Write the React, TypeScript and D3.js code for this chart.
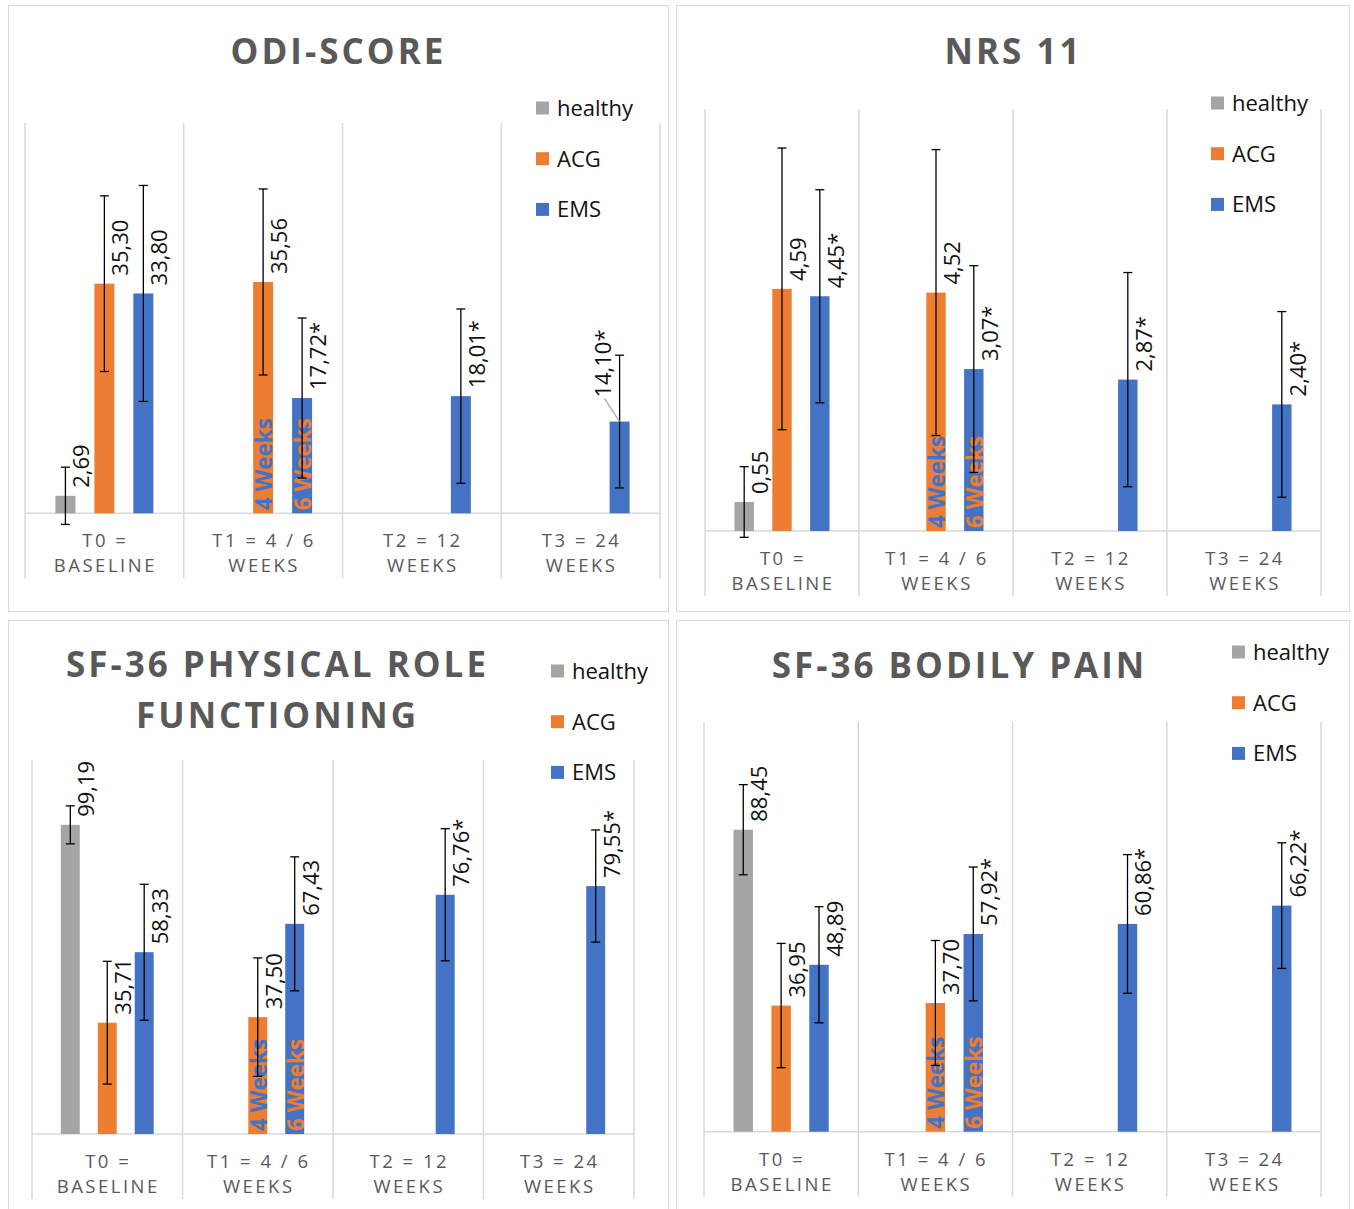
import React from "react";
import * as d3 from "d3";

// ---------- DATA ----------
const categoryLine1 = ["T0 =", "T1 = 4 / 6", "T2 = 12", "T3 = 24"];
const categoryLine2 = ["BASELINE", "WEEKS", "WEEKS", "WEEKS"];
const seriesNames = ["healthy", "ACG", "EMS"];
const seriesColors = ["#A5A5A5", "#ED7D31", "#4472C4"];
const weekNotes = ["4 Weeks", "6 Weeks"]; // on ACG and EMS bars at T1

// ODI-SCORE
const odiHealthy = [2.69, null, null, null];
const odiHealthySd = [4.4, null, null, null];
const odiAcg = [35.3, 35.56, null, null];
const odiAcgSd = [13.5, 14.3, null, null];
const odiEms = [33.8, 17.72, 18.01, 14.1];
const odiEmsSd = [16.6, 12.3, 13.4, 10.2];
const odiEmsStar = [false, true, true, true];

// NRS 11
const nrsHealthy = [0.55, null, null, null];
const nrsHealthySd = [0.67, null, null, null];
const nrsAcg = [4.59, 4.52, null, null];
const nrsAcgSd = [2.67, 2.71, null, null];
const nrsEms = [4.45, 3.07, 2.87, 2.4];
const nrsEmsSd = [2.02, 1.96, 2.03, 1.76];
const nrsEmsStar = [true, true, true, true];

// SF-36 PHYSICAL ROLE FUNCTIONING
const prfHealthy = [99.19, null, null, null];
const prfHealthySd = [6.1, null, null, null];
const prfAcg = [35.71, 37.5, null, null];
const prfAcgSd = [19.7, 19.0, null, null];
const prfEms = [58.33, 67.43, 76.76, 79.55];
const prfEmsSd = [21.8, 21.5, 21.2, 18.0];
const prfEmsStar = [false, false, true, true];

// SF-36 BODILY PAIN
const bpHealthy = [88.45, null, null, null];
const bpHealthySd = [13.2, null, null, null];
const bpAcg = [36.95, 37.7, null, null];
const bpAcgSd = [18.2, 18.3, null, null];
const bpEms = [48.89, 57.92, 60.86, 66.22];
const bpEmsSd = [17.0, 19.6, 20.3, 18.4];
const bpEmsStar = [false, true, true, true];

// ---------- LAYOUT ----------
const panels = [
  {
    title: ["ODI-SCORE"], titleX: 337, titleY: 64,
    box: [8.5, 5.5, 660, 606],
    x0: 25, x1: 660, yTop: 123, yBase: 513.3, yMax: 60,
    legendX: 536, legendY: 108,
    values: [odiHealthy, odiAcg, odiEms], sds: [odiHealthySd, odiAcgSd, odiEmsSd],
    stars: [null, null, odiEmsStar],
    displaced: { series: 2, cat: 3, dx: -33, dy: -16 },
  },
  {
    title: ["NRS 11"], titleX: 1012, titleY: 64,
    box: [676.5, 5.5, 673, 606],
    x0: 705, x1: 1321, yTop: 109, yBase: 531, yMax: 8,
    legendX: 1211, legendY: 103,
    values: [nrsHealthy, nrsAcg, nrsEms], sds: [nrsHealthySd, nrsAcgSd, nrsEmsSd],
    stars: [null, null, nrsEmsStar],
  },
  {
    title: ["SF-36 PHYSICAL ROLE", "FUNCTIONING"], titleX: 276, titleY: 677,
    box: [8.5, 620.5, 660, 620],
    x0: 32, x1: 634, yTop: 760, yBase: 1134, yMax: 120,
    legendX: 551, legendY: 671,
    values: [prfHealthy, prfAcg, prfEms], sds: [prfHealthySd, prfAcgSd, prfEmsSd],
    stars: [null, null, prfEmsStar],
  },
  {
    title: ["SF-36 BODILY PAIN"], titleX: 958, titleY: 678,
    box: [676.5, 620.5, 673, 620],
    x0: 704, x1: 1321, yTop: 722, yBase: 1131.7, yMax: 120,
    legendX: 1232, legendY: 652,
    values: [bpHealthy, bpAcg, bpEms], sds: [bpHealthySd, bpAcgSd, bpEmsSd],
    stars: [null, null, bpEmsStar],
  },
];

const FONT = "'Open Sans', 'Noto Sans', sans-serif";
const fmt = (v: number) => d3.format(".2f")(v).replace(".", ",");

function Panel({ cfg }: { cfg: any }) {
  const idx = d3.range(categoryLine1.length);
  const x = d3.scaleBand<number>().domain(idx).range([cfg.x0, cfg.x1]).padding(0);
  const inner = d3
    .scaleBand<number>()
    .domain(d3.range(seriesNames.length))
    .range([0, x.bandwidth()])
    .paddingInner(0.487)
    .paddingOuter(0.78);
  const y = d3.scaleLinear().domain([0, cfg.yMax]).range([cfg.yBase, cfg.yTop]);
  const bw = inner.bandwidth();

  const bars: any[] = [];
  cfg.values.forEach((arr: (number | null)[], s: number) => {
    arr.forEach((v, c) => {
      if (v == null) return;
      const left = (x(c) as number) + (inner(s) as number);
      bars.push({ s, c, v, sd: cfg.sds[s][c], left, cx: left + bw / 2, star: cfg.stars[s] ? cfg.stars[s][c] : false });
    });
  });

  const gridXs = idx.map((i) => x(i) as number).concat([cfg.x1]);

  return (
    <g>
      <rect x={cfg.box[0]} y={cfg.box[1]} width={cfg.box[2]} height={cfg.box[3]} fill="#fff" stroke="#d9d9d9" strokeWidth={1} />
      {cfg.title.map((t: string, i: number) => (
        <text key={i} x={cfg.titleX + 1.5} y={cfg.titleY + i * 51} textAnchor="middle" fontFamily={FONT} fontWeight={700}
          fontSize={35} letterSpacing={3} fill="#595959">{t}</text>
      ))}
      {/* grid lines */}
      {gridXs.map((gx, i) => (
        <line key={i} x1={gx} x2={gx} y1={cfg.yTop} y2={cfg.yBase + 65} stroke="#d9d9d9" strokeWidth={1.5} />
      ))}
      <line x1={cfg.x0} x2={cfg.x1} y1={cfg.yBase} y2={cfg.yBase} stroke="#d9d9d9" strokeWidth={1.5} />
      {/* category labels */}
      {idx.map((i) => {
        const cx = (x(i) as number) + x.bandwidth() / 2;
        return (
          <g key={i} fontFamily={FONT} fontSize={18.5} fill="#595959" letterSpacing={2.5} textAnchor="middle">
            <text x={cx + 1} y={cfg.yBase + 34}>{categoryLine1[i]}</text>
            <text x={cx + 1} y={cfg.yBase + 59}>{categoryLine2[i]}</text>
          </g>
        );
      })}
      {/* bars */}
      {bars.map((b, i) => (
        <rect key={i} x={b.left} width={bw} y={y(b.v)} height={cfg.yBase - y(b.v)} fill={seriesColors[b.s]} />
      ))}
      {/* week notes */}
      {bars.filter((b) => b.c === 1 && b.s > 0).map((b, i) => (
        <text key={i} transform={`translate(${b.cx + 9},${cfg.yBase - 3}) rotate(-90)`} fontFamily={FONT}
          fontWeight={700} fontSize={22.5} fill={b.s === 1 ? seriesColors[2] : seriesColors[1]}>{weekNotes[b.s - 1]}</text>
      ))}
      {/* error bars */}
      {bars.map((b, i) => {
        const yt = y(b.v + b.sd);
        const yb = y(b.v - b.sd);
        return (
          <g key={i} stroke="#000" strokeWidth={1.3}>
            <line x1={b.cx} x2={b.cx} y1={yt} y2={yb} />
            <line x1={b.cx - 4.5} x2={b.cx + 4.5} y1={yt} y2={yt} />
            <line x1={b.cx - 4.5} x2={b.cx + 4.5} y1={yb} y2={yb} />
          </g>
        );
      })}
      {/* value labels */}
      {bars.map((b, i) => {
        const disp = cfg.displaced && cfg.displaced.series === b.s && cfg.displaced.cat === b.c ? cfg.displaced : null;
        const lx = b.cx + 24 + (disp ? disp.dx : 0);
        const ly = y(b.v) - 8 + (disp ? disp.dy : 0);
        return (
          <g key={i}>
            {disp && <line x1={lx - 6} y1={ly + 1} x2={b.cx} y2={y(b.v)} stroke="#a6a6a6" strokeWidth={1.2} />}
            <text transform={`translate(${lx},${ly}) rotate(-90)`} fontFamily={FONT} fontSize={22} fill="#111">
              {fmt(b.v) + (b.star ? "*" : "")}
            </text>
          </g>
        );
      })}
      {/* legend */}
      {seriesNames.map((n, i) => (
        <g key={n} transform={`translate(${cfg.legendX},${cfg.legendY + i * 50.7})`}>
          <rect x={0} y={-6.5} width={13} height={13} fill={seriesColors[i]} />
          <text x={21} y={8} fontFamily={FONT} fontSize={22} fill="#111">{n}</text>
        </g>
      ))}
    </g>
  );
}

export default function App() {
  return (
    <svg width={1354} height={1209} style={{ position: "absolute", left: 0, top: 0, background: "#fff" }}>
      <rect x={0} y={0} width={1354} height={1209} fill="#fff" />
      {panels.map((p, i) => (
        <Panel key={i} cfg={p} />
      ))}
    </svg>
  );
}
